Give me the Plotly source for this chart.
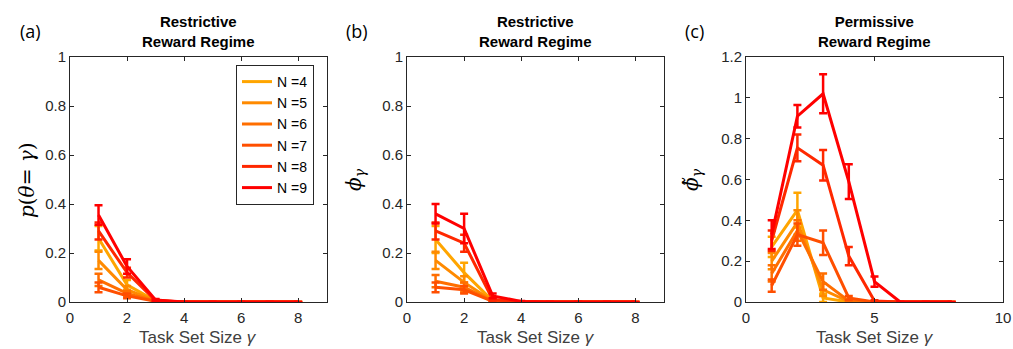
import plotly.graph_objects as go

x_vals = [1, 2, 3, 4, 5, 6, 7, 8]
n_labels = ["N =4", "N =5", "N =6", "N =7", "N =8", "N =9"]
colors = ["#FFA500", "#FF8A00", "#FF6E00", "#FF4F00", "#FF2800", "#FF0000"]

# Panel (a): p(theta = gamma), restrictive
a_vals = [
    [0.26, 0.07, 0.005, 0, 0, 0, 0, 0],
    [0.17, 0.05, 0.004, 0, 0, 0, 0, 0],
    [0.09, 0.035, 0.003, 0, 0, 0, 0, 0],
    [0.06, 0.025, 0.003, 0, 0, 0, 0, 0],
    [0.29, 0.12, 0.006, 0, 0, 0, 0, 0],
    [0.355, 0.145, 0.008, 0, 0, 0, 0, 0],
]
a_err = [
    [0.05, 0.02, 0.003, 0, 0, 0, 0, 0],
    [0.035, 0.015, 0.003, 0, 0, 0, 0, 0],
    [0.025, 0.01, 0.002, 0, 0, 0, 0, 0],
    [0.02, 0.01, 0.002, 0, 0, 0, 0, 0],
    [0.035, 0.02, 0.003, 0, 0, 0, 0, 0],
    [0.04, 0.03, 0.004, 0, 0, 0, 0, 0],
]

# Panel (b): phi_gamma, restrictive
b_vals = [
    [0.255, 0.12, 0.005, 0, 0, 0, 0, 0],
    [0.17, 0.08, 0.004, 0, 0, 0, 0, 0],
    [0.085, 0.06, 0.003, 0, 0, 0, 0, 0],
    [0.06, 0.05, 0.003, 0, 0, 0, 0, 0],
    [0.29, 0.24, 0.01, 0, 0, 0, 0, 0],
    [0.36, 0.30, 0.025, 0.002, 0, 0, 0, 0],
]
b_err = [
    [0.055, 0.04, 0.003, 0, 0, 0, 0, 0],
    [0.035, 0.025, 0.003, 0, 0, 0, 0, 0],
    [0.025, 0.02, 0.002, 0, 0, 0, 0, 0],
    [0.02, 0.015, 0.002, 0, 0, 0, 0, 0],
    [0.035, 0.035, 0.005, 0, 0, 0, 0, 0],
    [0.04, 0.06, 0.01, 0.002, 0, 0, 0, 0],
]

# Panel (c): phi-tilde_gamma, permissive
c_vals = [
    [0.27, 0.45, 0.02, 0, 0, 0, 0, 0],
    [0.20, 0.39, 0.06, 0.002, 0, 0, 0, 0],
    [0.14, 0.35, 0.10, 0.005, 0, 0, 0, 0],
    [0.08, 0.33, 0.29, 0.02, 0, 0, 0, 0],
    [0.30, 0.755, 0.67, 0.225, 0.005, 0, 0, 0],
    [0.33, 0.91, 1.02, 0.59, 0.10, 0, 0, 0],
]
c_err = [
    [0.05, 0.085, 0.02, 0, 0, 0, 0, 0],
    [0.04, 0.06, 0.03, 0.002, 0, 0, 0, 0],
    [0.04, 0.05, 0.04, 0.004, 0, 0, 0, 0],
    [0.03, 0.055, 0.06, 0.01, 0, 0, 0, 0],
    [0.05, 0.065, 0.075, 0.045, 0.003, 0, 0, 0],
    [0.07, 0.055, 0.095, 0.085, 0.025, 0, 0, 0],
]

panel_titles = ["<b>Restrictive<br>Reward Regime</b>", "<b>Restrictive<br>Reward Regime</b>",
                "<b>Permissive<br>Reward Regime</b>"]
panel_letters = ["(a)", "(b)", "(c)"]
y_titles = ["<i>p</i>(<i>θ</i>= <i>γ</i>)", "<i>ϕ<sub>γ</sub></i>", "<i>ϕ̃<sub>γ</sub></i>"]
x_title = "Task Set Size <i>γ</i>"

W, H = 1013, 349


def px(v):
    return v / W


def py(v):
    return 1 - v / H


x_px = [(70, 326.7), (407, 664), (746, 1003)]
y_px = (57, 302)

fig = go.Figure()
panels = [(a_vals, a_err), (b_vals, b_err), (c_vals, c_err)]
for p, (vals, errs) in enumerate(panels):
    xa = "x" if p == 0 else f"x{p+1}"
    ya = "y" if p == 0 else f"y{p+1}"
    for i in range(6):
        fig.add_trace(go.Scatter(
            x=x_vals, y=vals[i], mode="lines",
            line=dict(color=colors[i], width=3),
            error_y=dict(type="data", array=errs[i], color=colors[i], thickness=2.5, width=4),
            name=n_labels[i], showlegend=(p == 0), xaxis=xa, yaxis=ya,
        ))

axis_common = dict(showline=True, linecolor="#262626", linewidth=1, mirror="allticks",
                   ticks="inside", ticklen=4, tickcolor="#262626", showgrid=False, zeroline=False,
                   automargin=False,
                   tickfont=dict(family="Liberation Sans, Arial", size=15, color="#262626"))
ydom = [py(y_px[1]), py(y_px[0])]
layout = dict(
    width=W, height=H, autosize=False,
    margin=dict(l=0, r=0, t=0, b=0, pad=0, autoexpand=False),
    paper_bgcolor="white", plot_bgcolor="white",
    legend=dict(x=px(236), y=py(65), xanchor="left", yanchor="top",
                bordercolor="#262626", borderwidth=1, bgcolor="white",
                font=dict(family="Liberation Sans, Arial", size=14, color="black"),
                tracegroupgap=0, itemwidth=30),
)
annotations = []
for p in range(3):
    sx = "" if p == 0 else str(p + 1)
    x0, x1 = x_px[p]
    xmax = 10 if p == 2 else 9
    xticks = [0, 5, 10] if p == 2 else [0, 2, 4, 6, 8]
    ymax = 1.2 if p == 2 else 1
    yticks = [0, 0.2, 0.4, 0.6, 0.8, 1, 1.2] if p == 2 else [0, 0.2, 0.4, 0.6, 0.8, 1]
    layout["xaxis" + sx] = dict(domain=[px(x0), px(x1)], range=[0, xmax], tickvals=xticks,
                                anchor="y" + sx, ticklabelstandoff=2, **axis_common)
    layout["yaxis" + sx] = dict(domain=ydom, range=[0, ymax], tickvals=yticks,
                                ticktext=[f"{v:g}" for v in yticks],
                                anchor="x" + sx, **axis_common)
    cx = (x0 + x1) / 2
    annotations.append(dict(text=panel_titles[p], x=px(cx), y=py(31), xref="paper", yref="paper",
                            showarrow=False, xanchor="center", yanchor="middle",
                            font=dict(family="Liberation Sans, Arial", size=15, color="black")))
    annotations.append(dict(text=x_title, x=px(cx), y=py(337), xref="paper", yref="paper",
                            showarrow=False, xanchor="center", yanchor="middle",
                            font=dict(family="Liberation Sans, Arial", size=17, color="#404040")))
    lx = [30, 357, 694][p]
    annotations.append(dict(text=panel_letters[p], x=px(lx), y=py(31), xref="paper", yref="paper",
                            showarrow=False, xanchor="center", yanchor="middle",
                            font=dict(family="Open Sans, Liberation Sans", size=18, color="black")))
    tx = [27, 355, 692][p]
    annotations.append(dict(text=y_titles[p], x=px(tx), y=py(180), xref="paper", yref="paper",
                            showarrow=False, xanchor="center", yanchor="middle", textangle=-90,
                            font=dict(family="DejaVu Serif, Liberation Serif", size=20, color="black")))
layout["annotations"] = annotations
fig.update_layout(**layout)
fig.write_html("out.html")
